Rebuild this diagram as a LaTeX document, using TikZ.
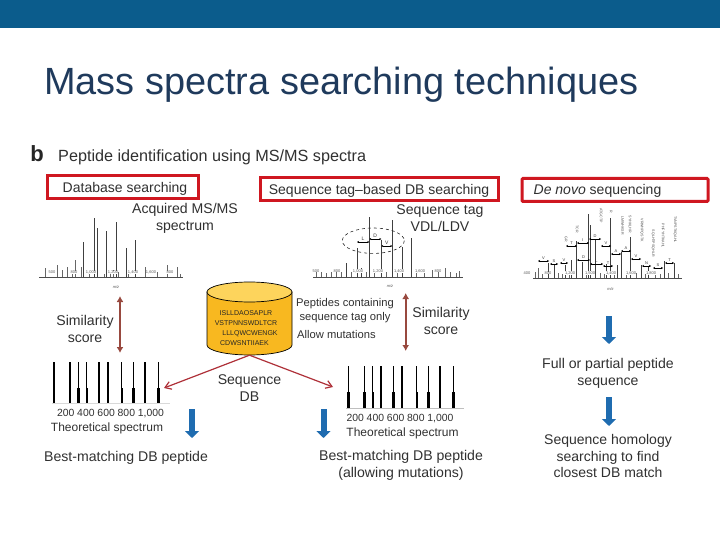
\documentclass[tikz,border=0pt]{standalone}
\usepackage{fontspec}
\setmainfont{Liberation Sans}
\usetikzlibrary{arrows.meta, positioning}
\definecolor{bandblue}{HTML}{0B5C8C}
\definecolor{titleblue}{HTML}{1F3A5C}
\definecolor{boxred}{HTML}{CF1720}
\definecolor{scorebrown}{HTML}{98493F}
\definecolor{dbred}{HTML}{AE3038}
\definecolor{flowblue}{HTML}{1F6CB0}
\definecolor{textgrey}{HTML}{303030}
\definecolor{dbbody}{HTML}{F8B820}
\definecolor{dbtop}{HTML}{FDD45C}
\tikzset{
  headline/.style={anchor=west, font=\fontsize{37.9}{40}\selectfont, text=titleblue, inner sep=0pt},
  caption/.style={align=center, font=\fontsize{14.1}{17}\selectfont, text=textgrey, inner sep=0pt, yshift=-1.5pt},
  small caption/.style={caption, font=\fontsize{11.2}{14}\selectfont},
  tick caption/.style={caption, font=\fontsize{10.4}{14}\selectfont},
  theory caption/.style={caption, font=\fontsize{12}{14}\selectfont},
  redbox/.style={rectangle, draw=boxred, line width=3pt, fill=white, inner sep=0pt,
    minimum height=23pt, font=\fontsize{14}{16}\selectfont, text=textgrey, text height=10pt, text depth=0pt},
  dbshape/.style={draw=black, line width=0.7pt},
  scorearrow/.style={{Latex[length=6pt,width=7pt]}-{Latex[length=6pt,width=7pt]}, line width=1.6pt, draw=scorebrown},
  dbarrow/.style={-{Straight Barb[length=6pt,width=8pt]}, line width=1.2pt, draw=dbred},
  flowarrow/.style={-{Triangle[length=7pt,width=14pt]}, line width=6pt, draw=flowblue},
  peak/.style={line width=0.6pt, draw=black!75},
  smallpeak/.style={line width=0.35pt, draw=black!60},
  axisline/.style={line width=0.5pt, draw=black!70},
  stick/.style={line width=1.1pt, draw=black},
  stickfoot/.style={line width=2.4pt, draw=black},
  tick text/.style={font=\fontsize{4}{4}\selectfont, text=black!65, inner sep=0pt},
  residue/.style={font=\fontsize{5}{5}\selectfont, text=black!80, inner sep=0pt},
  series/.style={font=\fontsize{3.6}{4}\selectfont, rotate=270, anchor=east, text=black!70, inner sep=0pt},
  gap/.style={{Stealth[length=2pt,width=2pt]}-{Stealth[length=2pt,width=2pt]}, line width=0.5pt, draw=black},
}

\begin{document}
\begin{tikzpicture}[x=1pt, y=-1pt]
  \useasboundingbox (0,0) rectangle (720,540);

  \fill[bandblue] (0,0) rectangle (720,28);
  \node[headline] (title) at (44,85) {Mass spectra searching techniques};

  \node[anchor=center, inner sep=0pt, font=\bfseries\fontsize{22}{22}\selectfont, text=black!85] (panel) at (37,154) {b};
  \node[anchor=west, caption, font=\fontsize{16.2}{18}\selectfont] (heading) at (58,156) {Peptide identification using MS/MS spectra};

  \node[redbox, minimum width=151pt] (dbsearch)  at (122.5,187.5) {\hspace{5pt}Database searching};
  \node[redbox, minimum width=238pt] (tagsearch) at (379,189.5) {Sequence tag--based DB searching};
  \node[redbox, minimum width=186pt, rounded corners=1pt] (denovo) at (615,190) {\hspace{-35pt}\textit{De novo} sequencing};

  % acquired spectrum
  \node[caption] (acquired) at (185,216.5) {Acquired MS/MS\\spectrum};
  \draw[axisline] (39,277) -- (183,277);
  \foreach \x/\y in {94.3/218, 97/228, 83.3/242, 106.3/231, 116.3/222, 126.7/248, 135.3/240}
    \draw[peak] (\x,277) -- (\x,\y);
  \foreach \x/\y in {45/268, 56.7/265, 61.7/270, 66.7/267, 71.7/272, 75.3/260, 81/267, 89.3/272, 104/274, 110/272, 112.7/270, 118.3/272, 128.3/272, 145/267, 156.7/272, 166.7/265, 176.7/267, 180/274}
    \draw[smallpeak] (\x,277) -- (\x,\y);
  \foreach \x/\t in {52/500, 74/800, 91/1{,}000, 113/1{,}200, 133/1{,}400, 151/1{,}600, 170/800}
    \node[tick text, fill=white] at (\x,272.5) {\t};
  \node[tick text] (mzleft) at (116,287) {\textit{m/z}};

  % tag spectrum
  \node[caption] (tag) at (440,216.5) {Sequence tag\\VDL/LDV};
  \draw[axisline] (313,277) -- (463,277);
  \foreach \x/\y in {357/248, 369.3/217, 381.3/240, 392.3/220, 402.7/247, 411/238, 346.7/263, 361.7/268}
    \draw[peak] (\x,277) -- (\x,\y);
  \foreach \x/\y in {316/270, 321/272, 326/273, 331/272, 336/270, 341/272, 351/272, 366/272, 374/273, 386/272, 397/273, 416/272, 424/273, 432/270, 438/272, 445/268, 450/272, 456/273, 459/271}
    \draw[smallpeak] (\x,277) -- (\x,\y);
  \foreach \x/\t in {316/500, 337/800, 358/1{,}000, 378/1{,}200, 399/1{,}400, 420/1{,}600, 438/800}
    \node[tick text, fill=white] at (\x,271) {\t};
  \node[tick text] (mzmid) at (390,286) {\textit{m/z}};
  \draw[dashed, line width=0.6pt, draw=black!85] (373.3,240.7) ellipse [x radius=31, y radius=12.7];
  \draw[gap] (357,242) -- (369.3,242);
  \draw[gap] (369.3,239) -- (381.3,239);
  \draw[gap] (381.3,246) -- (392.3,246);
  \node[residue] (resl) at (363,239) {L};
  \node[residue] (resd) at (375.3,236) {D};
  \node[residue] (resv) at (386.8,243) {V};

  % de novo spectrum
  \draw[axisline] (533,278) -- (682,278);
  \foreach \x/\y in {588.7/214, 590.7/225, 576.7/241, 595/240, 610.7/218, 621/252, 630.7/237, 606/264, 571/260, 548.7/263, 554/264, 565/265, 582/262, 641/265, 648.3/266, 664/261, 674.3/263, 617/265}
    \draw[peak] (\x,278) -- (\x,\y);
  \foreach \x/\y in {535/272, 538/268, 542/274, 558/273, 562/274, 569/273, 586/274, 600/273, 604/274, 614/273, 626/274, 636/273, 645/274, 655/272, 660/274, 668/273, 678/274}
    \draw[smallpeak] (\x,278) -- (\x,\y);
  \foreach \x/\t in {527/400, 548/800, 570/1{,}200, 590/1{,}500, 611/1{,}400, 631/1{,}600, 651/1{,}800}
    \node[tick text, fill=white] at (\x,273) {\t};
  \node[tick text] (mzright) at (610.5,289) {\textit{m/z}};
  \foreach \xa/\xb/\y/\t in {538/549/261/V, 550/558/264/S, 560/568/263/V, 566/577/246/T, 577/589/243/I, 589/601/239/D, 601/611/246/V, 611/621/254/A, 621/631/251/A, 631/641/259/V, 642/651/266/N, 653/663/268/S, 665/674/263/T, 577/590/260/D, 590/603/264/L, 603/613/266/T}
  {
    \draw[gap] (\xa,\y) -- (\xb,\y);
    \node[residue, font=\fontsize{4}{4}\selectfont] at ({(\xa+\xb)/2},\y-3) {\t};
  }
  \foreach \x/\y/\t in {566/242/GR, 577/233/TCR, 601/223/ATGCTP, 611/213/R, 622.7/235/LMWHKSR, 630/233/SYHKLHR, 641.7/242/VRWHPQSTK, 653/257/SQLHTPSQHLR, 663/248/PHFYHTKAHL, 675/243/TVNPSTKQAHL}
    \node[series] at (\x,\y) {\t};

  % database
  \node[minimum width=85pt, minimum height=73pt, inner sep=0pt] (db) at (249.5,318.5) {};
  \draw[dbshape, fill=dbbody] (207,292) -- (207,345) arc[start angle=180, end angle=0, x radius=42.5, y radius=10] -- (292,292) -- cycle;
  \draw[dbshape, fill=dbtop] (249.5,292) ellipse [x radius=42.5, y radius=10];
  \node[align=center, inner sep=0pt, font=\fontsize{7}{10.2}\selectfont, text=black!85] (dbpeptides) at (246,328) {ISLLDAOSAPLR\\VSTPNNSWDLTCR\\\hspace{8pt}LLLQWCWENGK\\\hspace{-3pt}CDWSNTIIAEK};
  \node[caption] (seqdb) at (249.5,386.5) {Sequence\\DB};

  \node[small caption] (containing) at (345,309) {Peptides containing\\sequence tag only};
  \node[small caption, anchor=west] (mutations) at (297,333) {Allow mutations};

  % score arrows
  \node[caption] (scoreleft)  at (85,327.5) {Similarity\\score};
  \node[caption] (scoreright) at (441,319.5) {Similarity\\score};
  \coordinate (acqfoot) at (120,296);
  \coordinate (theoleft) at (120,353);
  \coordinate (tagfoot) at (405.7,293);
  \coordinate (theoright) at (405.7,351);
  \draw[scorearrow] (acqfoot) -- (theoleft);
  \draw[scorearrow] (tagfoot) -- (theoright);

  % theoretical spectra
  \foreach \x in {54, 70, 78.3, 86.7, 99, 108, 121.7, 133.3, 145, 158.3} {
    \draw[stick] (\x,362) -- (\x,403);
    \draw[stickfoot] (\x,388) -- (\x,403);
  }
  \draw[line width=0.5pt, draw=black!15] (52,403.5) -- (170,403.5);
  \foreach \x in {348.3, 364.3, 372.7, 381, 393.3, 402, 416.7, 428.3, 440, 453.3} {
    \draw[stick] (\x,366) -- (\x,408);
    \draw[stickfoot] (\x,392) -- (\x,408);
  }
  \draw[line width=0.5pt, draw=black!25] (346,408.5) -- (464,408.5);
  \node[tick caption] (ticksleft) at (110.5,412) {200 400 600 800 1,000};
  \node[theory caption] (theoryleft) at (107,427) {Theoretical spectrum};
  \node[tick caption] (ticksright) at (400,417) {200 400 600 800 1,000};
  \node[theory caption] (theoryright) at (402.5,432) {Theoretical spectrum};

  % db links
  \coordinate (linkleft) at (164,388);
  \coordinate (linkright) at (333,387);
  \draw[dbarrow] (db.south) -- (linkleft);
  \draw[dbarrow] (db.south) -- (linkright);

  % results
  \node[caption] (bestleft) at (126,456) {Best-matching DB peptide};
  \node[caption] (bestright) at (401,463.5) {Best-matching DB peptide\\(allowing mutations)};
  \node[caption] (fullpartial) at (608,371.5) {Full or partial peptide\\sequence};
  \node[caption, font=\fontsize{14}{16.5}\selectfont] (homology) at (608,454.5) {Sequence homology\\searching to find\\closest DB match};
  \coordinate (bluea) at (192,409);
  \coordinate (blueb) at (192,438);
  \coordinate (bluec) at (323.5,409);
  \coordinate (blued) at (323.5,438);
  \coordinate (bluee) at (609,316);
  \coordinate (bluef) at (609,344);
  \coordinate (blueg) at (609,397);
  \coordinate (blueh) at (609,426);
  \draw[flowarrow] (bluea) -- (blueb);
  \draw[flowarrow] (bluec) -- (blued);
  \draw[flowarrow] (bluee) -- (bluef);
  \draw[flowarrow] (blueg) -- (blueh);
\end{tikzpicture}
\end{document}
